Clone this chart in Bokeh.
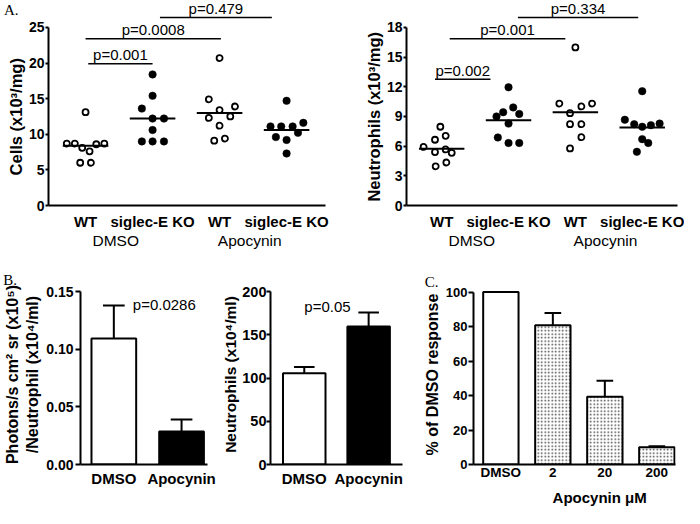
from bokeh.plotting import figure
from bokeh.models import FixedTicker, LinearAxis, Range1d, NumeralTickFormatter
from bokeh.layouts import row, column
from bokeh.embed import file_html
from bokeh.resources import INLINE
from bokeh.core.properties import value

SANS = "Liberation Sans"
SERIF = "Liberation Serif"
NB = "\u00a0"

# ---------------- data ----------------
genotypes = ["WT", "siglec-E KO", "WT", "siglec-E KO"]
genotype_pos = [1, 2, 3, 4]
genotype_filled = [False, True, False, True]
treatment_labels = ["DMSO", "Apocynin"]
treatment_pos = [1.45, 3.45]

cells_values = [
    [13.1, 8.7, 8.7, 8.1, 7.6, 8.6, 8.7, 6.0, 6.0],
    [18.4, 15.4, 13.6, 12.2, 12.2, 10.6, 9.0, 9.0, 9.0],
    [20.7, 14.9, 13.4, 13.9, 12.3, 12.5, 11.2, 9.1, 9.4],
    [14.7, 11.1, 11.1, 11.1, 11.6, 10.2, 9.6, 9.2, 7.3],
]
cells_jitter = [
    [0.0, -0.28, -0.16, -0.05, 0.06, 0.16, 0.28, -0.08, 0.08],
    [0.0, 0.0, -0.16, 0.0, 0.17, 0.0, -0.16, 0.0, 0.17],
    [0.0, -0.16, 0.0, 0.23, -0.16, 0.16, 0.0, -0.08, 0.08],
    [0.0, -0.24, -0.08, 0.09, 0.25, 0.17, -0.16, 0.0, 0.0],
]
cells_mean = [8.4, 12.2, 13.0, 10.6]
cells_p_text = ["p=0.001", "p=0.0008", "p=0.479"]
cells_p_x0 = [1.04, 1.0, 2.11]
cells_p_x1 = [2.0, 3.02, 3.78]
cells_p_y = [19.9, 23.4, 26.4]

neut_values = [
    [7.96, 6.65, 7.04, 5.92, 5.4, 5.67, 5.33, 3.96, 4.35],
    [11.95, 9.0, 9.43, 9.92, 9.26, 8.28, 6.88, 6.32, 6.32],
    [15.98, 10.31, 10.02, 10.31, 9.33, 8.22, 8.22, 6.91, 5.77],
    [11.56, 8.67, 8.22, 7.96, 8.12, 8.28, 6.71, 6.32, 5.43],
]
neut_jitter = [
    [-0.02, -0.1, 0.06, -0.27, -0.1, 0.06, 0.15, -0.09, 0.07],
    [0.0, -0.18, -0.08, 0.07, 0.16, 0.0, -0.16, 0.0, 0.16],
    [0.0, -0.24, 0.09, 0.25, -0.08, -0.08, 0.09, 0.09, -0.08],
    [0.0, -0.26, -0.12, 0.0, 0.13, 0.26, 0.0, 0.09, -0.08],
]
neut_mean = [5.73, 8.61, 9.43, 7.89]
neut_p_text = ["p=0.002", "p=0.001", "p=0.334"]
neut_p_x0 = [0.9, 1.12, 2.14]
neut_p_x1 = [1.73, 2.85, 3.94]
neut_p_y = [12.77, 16.87, 19.02]

b_labels = ["DMSO", "Apocynin"]
b_pos = [1, 2]
b_fill = ["white", "black"]
photon_values = [0.1095, 0.0287]
photon_err = [0.0285, 0.0103]
photon_p = "p=0.0286"
bneut_values = [105.8, 159.9]
bneut_err = [7.2, 16.1]
bneut_p = "p=0.05"

c_labels = ["DMSO", "2", "20", "200"]
c_pos = [1, 2, 3, 4]
c_values = [100.0, 80.8, 39.3, 10.05]
c_err = [0.0, 7.0, 9.3, 0.5]
c_hatch = [" ", "dot", "dot", "dot"]

# ---------------- layout helpers ----------------
SX = 684 / 700
SY = 508 / 524


def panel(rx0, rx1, ry0, ry1, frame, xcal, ycal):
    fl, fr, ft, fb = frame
    W = round(rx1 * SX) - round(rx0 * SX)
    H = round(ry1 * SY) - round(ry0 * SY)

    def xd(px):
        return xcal[0] + (px - xcal[1]) / xcal[2]

    def yd(py):
        return (ycal[0] - py) / ycal[1]

    p = figure(width=W, height=H,
               x_range=Range1d(xd(fl), xd(fr)), y_range=Range1d(yd(fb), yd(ft)),
               min_border_left=round((fl - rx0) * SX), min_border_right=round((rx1 - fr) * SX),
               min_border_top=round((ft - ry0) * SY), min_border_bottom=round((ry1 - fb) * SY),
               output_backend="svg", toolbar_location=None)
    p.outline_line_color = None
    p.grid.visible = False
    p.background_fill_color = "white"
    p.border_fill_color = "white"
    return p, xd, yd


def style(p, yticks, ybounds, ylabel, ytick_size, ylabel_size, ytick_out, ystandoff, ylabel_standoff,
          xticks, xlabels, xtick_size, xstandoff):
    ya = p.yaxis[0]
    ya.ticker = FixedTicker(ticks=yticks)
    ya.bounds = ybounds
    ya.axis_line_width = 2
    ya.axis_line_color = "black"
    ya.major_tick_line_width = 2
    ya.major_tick_line_color = "black"
    ya.major_tick_out = ytick_out
    ya.major_tick_in = 0
    ya.minor_tick_line_color = None
    ya.major_label_text_font = SANS
    ya.major_label_text_font_style = "bold"
    ya.major_label_text_font_size = ytick_size
    ya.major_label_text_color = "black"
    ya.major_label_standoff = ystandoff
    ya.axis_label = ylabel
    ya.axis_label_text_font = SANS
    ya.axis_label_text_font_style = "bold"
    ya.axis_label_text_font_size = ylabel_size
    ya.axis_label_text_color = "black"
    ya.axis_label_standoff = ylabel_standoff
    xa = p.xaxis[0]
    xa.ticker = FixedTicker(ticks=xticks)
    xa.major_label_overrides = {t: l for t, l in zip(xticks, xlabels)}
    xa.axis_line_width = 2
    xa.axis_line_color = "black"
    xa.major_tick_line_color = None
    xa.major_tick_out = 0
    xa.major_tick_in = 0
    xa.minor_tick_line_color = None
    xa.major_label_text_font = SANS
    xa.major_label_text_font_style = "bold"
    xa.major_label_text_font_size = xtick_size
    xa.major_label_text_color = "black"
    xa.major_label_standoff = xstandoff


def text_axis(p, side, ticks, labels, font, size, style_, standoff):
    ax = LinearAxis(ticker=FixedTicker(ticks=ticks),
                    major_label_overrides={t: l for t, l in zip(ticks, labels)})
    ax.axis_line_color = None
    ax.major_tick_line_color = None
    ax.major_tick_out = 0
    ax.major_tick_in = 0
    ax.minor_tick_line_color = None
    ax.major_label_text_font = font
    ax.major_label_text_font_style = style_
    ax.major_label_text_font_size = size
    ax.major_label_text_color = "black"
    ax.major_label_standoff = standoff
    p.add_layout(ax, side)


def title_letter(p, txt, offset, standoff):
    p.title.text = txt
    p.title.align = "left"
    p.title.offset = offset
    p.title.standoff = standoff
    p.title.text_font = SERIF
    p.title.text_font_style = "normal"
    p.title.text_font_size = "15px"
    p.title.text_color = "black"


def scatter_panel(p, vals, jit, means, pt, px0, px1, py, ppu):
    for i, pos in enumerate(genotype_pos):
        xs = [pos + j for j in jit[i]]
        if genotype_filled[i]:
            p.scatter(xs, vals[i], size=7.5, marker="circle", fill_color="black",
                      line_color="black", line_width=0.5)
        else:
            p.scatter(xs, vals[i], size=6, marker="circle", fill_color="white",
                      line_color="black", line_width=1.8)
    p.segment(x0=[g - 0.34 for g in genotype_pos], x1=[g + 0.34 for g in genotype_pos],
              y0=means, y1=means, line_color="black", line_width=2)
    p.segment(x0=px0, x1=px1, y0=py, y1=py, line_color="black", line_width=1.5)
    lift = 9.0 / (ppu * SY)
    p.text(x=[(a + b) / 2 for a, b in zip(px0, px1)], y=[v + lift for v in py], text=pt,
           text_font=value(SANS), text_font_size="15px", text_align="center",
           text_baseline="alphabetic", text_color="black")


def error_bars(p, xs, tops, errs, half=0.16):
    up = [t + e for t, e in zip(tops, errs)]
    p.segment(x0=xs, x1=xs, y0=tops, y1=up, line_color="black", line_width=2)
    p.segment(x0=[x - half for x in xs], x1=[x + half for x in xs], y0=up, y1=up,
              line_color="black", line_width=2)


# ---------------- Panel A left ----------------
pA1, xd, yd = panel(0, 350, 0, 270, (49, 333, 0, 211), (1, 87, 68.7), (211, 7.332))
style(pA1, [0, 5, 10, 15, 20, 25], (0, 25), "Cells (x10³/mg)" + NB * 6, "14px", "16.5px", 3, 1, 1,
      genotype_pos, genotypes, "15px", 7)
text_axis(pA1, "below", treatment_pos, treatment_labels, SANS, "15.5px", "normal", -1)
text_axis(pA1, "left", [yd(7)], ["A."], SERIF, "15px", "normal", -15)
scatter_panel(pA1, cells_values, cells_jitter, cells_mean,
              cells_p_text, cells_p_x0, cells_p_x1, cells_p_y, 7.332)

# ---------------- Panel A right ----------------
pA2, xd, yd = panel(350, 700, 0, 270, (415.7, 693, 0, 211), (1, 451.7, 68.4), (211, 10.18))
style(pA2, [0, 3, 6, 9, 12, 15, 18], (0, 18), "Neutrophils (x10³/mg)" + NB * 6, "14px", "16.5px",
      3, 1, 1, genotype_pos, genotypes, "15px", 7)
text_axis(pA2, "below", treatment_pos, treatment_labels, SANS, "15.5px", "normal", -1)
scatter_panel(pA2, neut_values, neut_jitter, neut_mean,
              neut_p_text, neut_p_x0, neut_p_x1, neut_p_y, 10.18)

# ---------------- Panel B left ----------------
pB1, xd, yd = panel(0, 224, 270, 524, (81, 211.7, 293, 483.3), (1, 115.3, 69.7), (483.3, 1217.3))
style(pB1, [0, 0.05, 0.10, 0.15], (0, 0.15),
      "Photons/s cm² sr (x10⁵)\n/Neutrophil (x10⁴/ml)", "14px", "16px", 5, 2, 2,
      b_pos, b_labels, "15px", 5)
pB1.yaxis[0].formatter = NumeralTickFormatter(format="0.00")
pB1.vbar(x=b_pos, top=photon_values, width=0.66, fill_color=b_fill,
         line_color="black", line_width=2)
error_bars(pB1, b_pos, photon_values, photon_err)
pB1.text(x=[1.28], y=[0.139], text=[photon_p], text_font=value(SANS), text_font_size="15px",
         text_align="left", text_baseline="middle", text_color="black")
title_letter(pB1, "B.", -(81 - 2) * SX, -6)

# ---------------- Panel B right ----------------
pB2, xd, yd = panel(224, 420, 270, 524, (273.3, 411.7, 293, 483.3), (1, 308.7, 67.5), (483.3, 0.913))
style(pB2, [0, 50, 100, 150, 200], (0, 200), "Neutrophils (x10⁴/ml)", "14.5px", "15.5px", 4, 0, 0,
      b_pos, b_labels, "15px", 5)
pB2.vbar(x=b_pos, top=bneut_values, width=0.66, fill_color=b_fill,
         line_color="black", line_width=2)
error_bars(pB2, b_pos, bneut_values, bneut_err)
pB2.text(x=[1.36], y=[183], text=[bneut_p], text_font=value(SANS), text_font_size="15px",
         text_align="center", text_baseline="middle", text_color="black")

# ---------------- Panel C ----------------
pC, xd, yd = panel(420, 700, 270, 524, (484, 690.7, 293, 483.3), (1, 512, 53.2), (483.3, 1.823))
style(pC, [0, 20, 40, 60, 80, 100], (0, 100), "% of DMSO response", "13px", "16px", 5, 1, 2,
      c_pos, c_labels, "13.5px", 0)
text_axis(pC, "below", [2.9], ["Apocynin μM"], SANS, "15px", "bold", 6)
pC.vbar(x=c_pos, top=c_values, width=0.68, fill_color="white", line_color="black",
        line_width=2, hatch_pattern=c_hatch, hatch_color="#444444", hatch_scale=3.5,
        hatch_weight=0.6)
error_bars(pC, c_pos[1:], c_values[1:], c_err[1:])
title_letter(pC, "C.", -(484 - 434) * SX, -10)

layout = column(row(pA1, pA2), row(pB1, pB2, pC))
open("out.html", "w").write(file_html(layout, INLINE))
